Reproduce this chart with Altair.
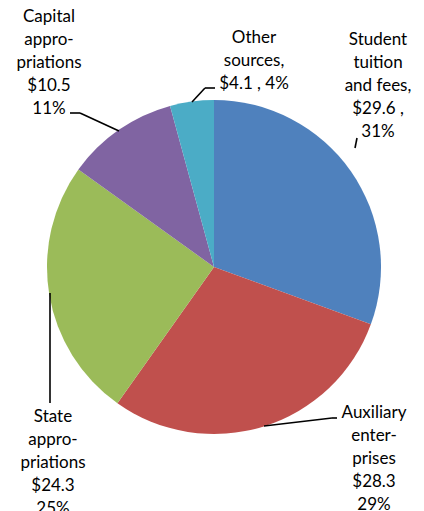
import altair as alt
import pandas as pd

# ---- data ----
categories = ["Student tuition and fees", "Auxiliary enterprises", "State appropriations",
              "Capital appropriations", "Other sources"]
values = [29.6, 28.3, 24.3, 10.5, 4.1]
colors = ["#4F81BD", "#C0504D", "#9BBB59", "#8064A2", "#4BACC6"]
# label wording as it is broken over lines in the chart
label_lines = [
    ["Student", "tuition", "and fees,"],
    ["Auxiliary", "enter-", "prises"],
    ["State", "appro-", "priations"],
    ["Capital", "appro-", "priations"],
    ["Other", "sources,"],
]

total = sum(values)
pcts = [round(v / total * 100) for v in values]

def make_label(i):
    lines = list(label_lines[i])
    v, p = values[i], pcts[i]
    if i == 0:
        lines += [f"${v} ,", f"{p}%"]
    elif i == 4:
        lines += [f"${v} , {p}%"]
    else:
        lines += [f"${v}", f"{p}%"]
    return "\n".join(lines)

pie_df = pd.DataFrame({"cat": categories, "val": values, "idx": list(range(len(values)))})

# ---- layout (annotation placement, chart px; y = centre of first line) ----
CX, CY, R = 206, 259, 167
label_pos = [(370, 32), (366, 405), (45, 409), (41, 9), (246, 30)]
leaders = [
    [(347, 140), (349, 130)],
    [(256, 418), (324, 410), (329, 410)],
    [(42, 285), (42, 395)],
    [(62, 105), (72, 105), (111, 123)],
    [(184, 94), (197, 80), (207, 80)],
]

lab_df = pd.DataFrame({
    "text": [make_label(i) for i in range(len(values))],
    "x": [p[0] for p in label_pos],
    "y": [p[1] for p in label_pos],
})

segs = []
for pts in leaders:
    for a, b in zip(pts[:-1], pts[1:]):
        segs.append({"x": a[0], "y": a[1], "x2": b[0], "y2": b[1]})
seg_df = pd.DataFrame(segs)

pie = alt.Chart(pie_df).mark_arc(radius=R).encode(
    theta=alt.Theta("val:Q", stack=True),
    order=alt.Order("idx:Q"),
    color=alt.Color("cat:N", scale=alt.Scale(domain=categories, range=colors), legend=None),
    x=alt.value(CX),
    y=alt.value(CY),
)

rules = alt.Chart(seg_df).mark_rule(color="black", strokeWidth=1.6).encode(
    x=alt.X("x:Q", scale=None),
    y=alt.Y("y:Q", scale=None),
    x2="x2:Q",
    y2="y2:Q",
)

labels = alt.Chart(lab_df).mark_text(
    font="Lato", fontSize=17, lineBreak="\n", lineHeight=23,
    align="center", baseline="middle", color="black",
).encode(
    x=alt.X("x:Q", scale=None),
    y=alt.Y("y:Q", scale=None),
    text="text:N",
)

chart = alt.layer(pie, rules, labels).properties(
    width=408, height=503, padding=0, autosize="none"
).configure_view(stroke=None)

chart.save("out.html", embed_options={"renderer": "svg", "actions": False})
